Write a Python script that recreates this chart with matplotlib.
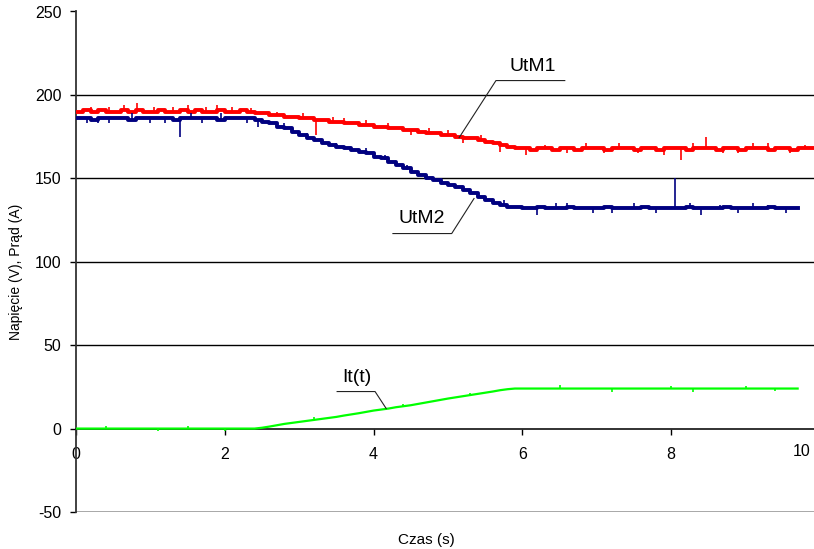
import numpy as np
import matplotlib
matplotlib.use("Agg")
import matplotlib.pyplot as plt

plt.rcParams['font.family'] = ['Liberation Sans', 'DejaVu Sans']
plt.rcParams['axes.unicode_minus'] = False

# probki co 0.1 s
dt = 0.1

utm1 = [190, 191, 190, 191, 190, 190, 191, 190, 191, 190,
        190, 191, 190, 190, 191, 190, 191, 190, 190, 191,
        190, 190, 191, 190, 189, 189, 188, 188, 187, 187,
        186, 186, 185, 185, 184, 184, 183, 183, 182, 182,
        181, 181, 180, 180, 179, 179, 178, 177, 177, 176,
        176, 175, 174, 174, 173, 172, 171, 170, 169, 168,
        168, 167, 168, 168, 167, 168, 168, 167, 168, 168,
        168, 167, 168, 168, 168, 167, 168, 168, 167, 168,
        168, 168, 167, 168, 168, 168, 167, 168, 168, 167,
        168, 168, 168, 167, 168, 168, 167, 168, 168, 168, 168]

utm2 = [186, 186, 185, 186, 186, 186, 186, 185, 186, 186,
        186, 186, 186, 185, 186, 186, 186, 186, 186, 185,
        186, 186, 186, 186, 185, 184, 183, 181, 180, 178,
        176, 174, 173, 171, 170, 169, 168, 167, 166, 165,
        163, 162, 160, 158, 156, 154, 152, 150, 149, 147,
        146, 145, 143, 141, 139, 137, 135, 134, 133, 133,
        132, 132, 133, 132, 132, 132, 133, 132, 132, 132,
        132, 133, 132, 132, 132, 132, 133, 132, 132, 132,
        132, 132, 133, 132, 132, 132, 132, 133, 132, 132,
        132, 132, 132, 133, 132, 132, 132, 132]

it = [0, 0, 0, 0, 0, 0, 0, 0, 0, 0,
      0, 0, 0, 0, 0, 0, 0, 0, 0, 0,
      0, 0, 0, 0, 0, 0.5, 1.2, 2.0, 2.8, 3.4,
      4.0, 4.6, 5.2, 5.8, 6.4, 7.0, 7.8, 8.5, 9.2, 10.0,
      10.8, 11.4, 12.0, 12.8, 13.4, 14.0, 14.8, 15.6, 16.4, 17.2,
      18.0, 18.7, 19.4, 20.1, 20.8, 21.5, 22.2, 23.0, 23.6, 24.0,
      24, 24, 24, 24, 24, 24, 24, 24, 24, 24,
      24, 24, 24, 24, 24, 24, 24, 24, 24, 24,
      24, 24, 24, 24, 24, 24, 24, 24, 24, 24,
      24, 24, 24, 24, 24, 24, 24, 24]

# szpilki (czas, wartosc)
utm1_spike_t = [0.2, 0.45, 0.65, 0.82, 1.05, 1.3, 1.5, 1.75, 1.9, 2.1, 2.35, 2.7, 3.05, 3.23, 3.45,
                3.6, 3.9, 4.2, 4.5, 4.75, 5.0, 5.2, 5.45, 5.7, 6.05, 6.3, 6.6, 6.85, 7.1, 7.3,
                7.55, 7.9, 8.13, 8.3, 8.47, 8.7, 8.9, 9.1, 9.3, 9.6, 9.8]
utm1_spike_y = [193, 193, 194, 195, 193, 193, 194, 193, 194, 193, 192, 190, 189, 176, 187,
                186, 185, 183, 176, 180, 179, 171, 176, 166, 164, 170, 165, 171, 165, 171,
                165, 164, 161, 171, 175, 165, 165, 171, 171, 165, 170]
utm2_spike_t = [0.15, 0.3, 0.45, 0.75, 1.0, 1.2, 1.4, 1.55, 1.7, 1.95, 2.3, 2.45, 2.8, 3.1, 3.5,
                3.9, 4.15, 4.45, 4.9, 5.3, 5.75, 6.2, 6.45, 6.6, 6.95, 7.2, 7.5, 7.8, 8.05, 8.25,
                8.4, 8.65, 8.9, 9.1, 9.3, 9.55]
utm2_spike_y = [183, 183, 183, 189, 183, 183, 175, 189, 183, 189, 183, 181, 183, 177, 171,
                168, 164, 158, 150, 143, 137, 128, 135, 135, 129, 129, 135, 129, 150, 135,
                128, 134, 129, 135, 134, 129]
it_spike_t = [0.4, 1.1, 1.5, 2.0, 3.2, 4.4, 5.3, 6.5, 7.2, 8.0, 8.3, 9.0, 9.4]
it_spike_y = [1.5, -1.5, 1.5, -1.5, 6.8, 15, 21.5, 26, 22, 25.5, 22, 25.5, 22.5]

fig = plt.figure(figsize=(8.14, 5.49), dpi=100)
ax = fig.add_axes([76/814, 37/549, 738/814, 500.5/549])

series = [(utm1, utm1_spike_t, utm1_spike_y, '#ff0000', 2.8, 'steps-post'),
          (utm2, utm2_spike_t, utm2_spike_y, '#000080', 2.8, 'steps-post'),
          (it, it_spike_t, it_spike_y, '#00ff00', 1.6, 'default')]
for vals, st, sy, col, lw, ds in series:
    t = np.arange(len(vals)) * dt
    ax.plot(t, vals, color=col, lw=lw, drawstyle=ds, zorder=3)
    base = np.interp(st, t, vals)
    ax.vlines(st, base, sy, color=col, lw=1.2, zorder=3)

ax.set_xlim(0, 9.92)
ax.set_ylim(-50, 250)
yt = [-50, 0, 50, 100, 150, 200, 250]
ax.set_yticks(yt)
for y in yt:
    if y in (-50, 250):
        ax.axhline(y, color='#999999', lw=1.2, zorder=1)
    elif y != 0:
        ax.axhline(y, color='black', lw=1.0, zorder=1)

ax.spines['top'].set_visible(False)
ax.spines['right'].set_visible(False)
ax.spines['bottom'].set_position(('data', 0))
ax.spines['bottom'].set_color('#222222')
ax.spines['left'].set_color('#333333')
ax.spines['left'].set_linewidth(1.3)
ax.spines['bottom'].set_linewidth(1.3)
ax.set_xticks([0, 2, 4, 6, 8])
ax.tick_params(axis='y', direction='out', length=4.5, width=1, pad=6, labelsize=11.5)
ax.tick_params(axis='x', direction='out', length=4, width=1, pad=9, labelsize=11.5)
ax.text(9.76, -14, '10', ha='center', va='center', fontsize=11.5)

ax.set_ylabel('Napięcie (V), Prąd (A)', fontsize=10)
ax.yaxis.set_label_coords(-0.072, 0.48)
ax.text(0.475, -0.055, 'Czas (s)', transform=ax.transAxes, ha='center', va='center', fontsize=11)

# opisy krzywych
ax.plot([5.15, 5.645, 6.57], [174.4, 208.6, 208.6], color='#222222', lw=0.8, zorder=4)
ax.text(6.14, 216.8, 'UtM1', ha='center', va='center', fontsize=14)
ax.plot([5.35, 5.05, 4.26], [137.9, 116.9, 116.9], color='#222222', lw=0.8, zorder=4)
ax.text(4.65, 125.9, 'UtM2', ha='center', va='center', fontsize=14)
ax.plot([4.17, 4.02, 3.51], [12.0, 22.2, 22.2], color='#222222', lw=0.8, zorder=4)
ax.text(3.78, 30.6, 'It(t)', ha='center', va='center', fontsize=14)

fig.savefig('out.png', dpi=100)
